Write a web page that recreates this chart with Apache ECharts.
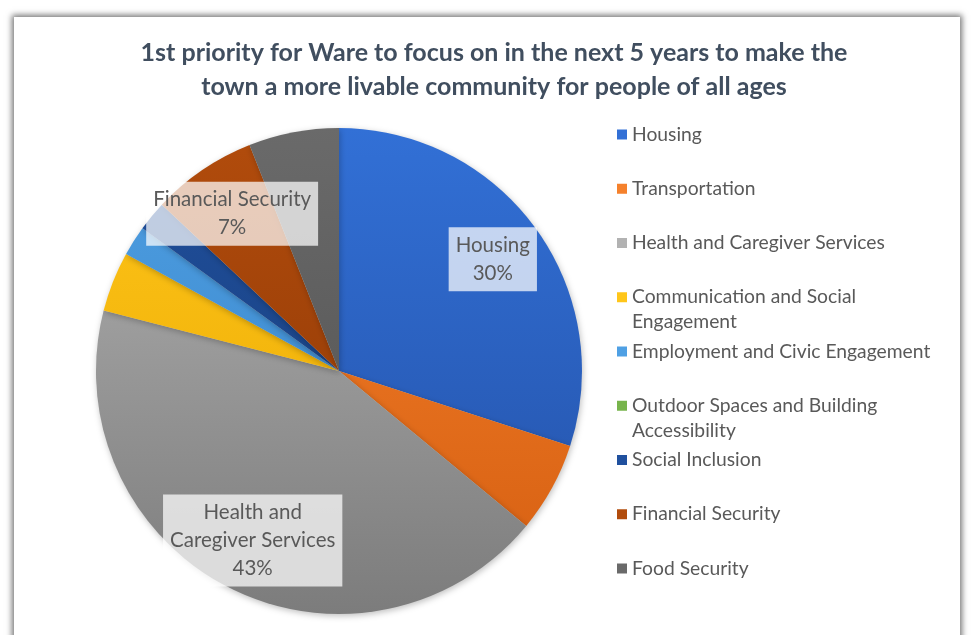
<!DOCTYPE html>
<html>
<head>
<meta charset="utf-8">
<script src="https://cdn.jsdelivr.net/npm/echarts@6/dist/echarts.min.js"></script>
<style>
  html, body { margin: 0; padding: 0; background: #ffffff; }
  #frame { position: absolute; left: 14px; top: 17px; width: 946px; height: 660px;
           background: #ffffff; box-shadow: 0 0 6px 2px rgba(0,0,0,0.55); }
  #chart { position: absolute; left: 0; top: 0; width: 972px; height: 635px; }
</style>
</head>
<body>
<div id="frame"></div>
<div id="chart"></div>
<script>
// ---- data ----
const titleText = "1st priority for Ware to focus on in the next 5 years to make the\ntown a more livable community for people of all ages";
const categories = [
  "Housing",
  "Transportation",
  "Health and Caregiver Services",
  "Communication and Social Engagement",
  "Employment and Civic Engagement",
  "Outdoor Spaces and Building Accessibility",
  "Social Inclusion",
  "Financial Security",
  "Food Security"
];
const shares = [30, 6, 43, 4, 2, 0, 2, 7, 6];
const labeledCategories = ["Housing", "Health and Caregiver Services", "Financial Security"];
const sliceLabelText = {
  "Housing": "Housing",
  "Health and Caregiver Services": "Health and\nCaregiver Services",
  "Financial Security": "Financial Security"
};
const legendText = {
  "Communication and Social Engagement": "Communication and Social\nEngagement",
  "Outdoor Spaces and Building Accessibility": "Outdoor Spaces and Building\nAccessibility"
};

// ---- style ----
const colorPairs = [
  ["#3270D6", "#2350A6"],
  ["#F5812C", "#D55E10"],
  ["#B2B2B2", "#7C7C7C"],
  ["#FFC61A", "#E8A600"],
  ["#4FA0E4", "#357FC2"],
  ["#77B44C", "#5E963A"],
  ["#20509E", "#163A74"],
  ["#B24C0C", "#8A3605"],
  ["#6A6A6A", "#4E4E4E"]
];
const FONT = "Lato, 'Open Sans', sans-serif";
const cx = 339, cy = 371, R = 243;
const LH = 25; // legend line height

function grad(pair) {
  return new echarts.graphic.LinearGradient(0, cy - R, 0, cy + R,
    [{ offset: 0, color: pair[0] }, { offset: 1, color: pair[1] }], true);
}

const chart = echarts.init(document.getElementById('chart'), null, { renderer: 'canvas' });

const mainData = categories.map((n, i) => ({
  name: n, value: shares[i], itemStyle: { color: grad(colorPairs[i]) }
}));
const labelData = categories.map((n, i) => ({
  name: n, value: shares[i], label: { show: labeledCategories.indexOf(n) >= 0 }
}));

// marker box: square at top of a taller box so it lines up with the first text line
const twoLineIcon = 'path://M0,0h10v10h-10z M0,' + (10 + LH);

const legendStep = 54.25, legendC0 = 134;
const legends = categories.map((n, i) => {
  const two = !!legendText[n];
  return {
    orient: 'vertical',
    left: 612,
    top: legendC0 + i * legendStep - 17,
    icon: two ? twoLineIcon : 'rect',
    itemWidth: 10,
    itemHeight: two ? 10 + LH : 10,
    data: [{ name: n, itemStyle: { color: colorPairs[i][0] } }],
    formatter: name => legendText[name] || name,
    textStyle: { color: '#595959', fontSize: 19.3, lineHeight: LH, fontFamily: FONT }
  };
});

chart.setOption({
  animation: false,
  color: colorPairs.map(p => p[0]),
  title: {
    text: titleText,
    left: 489,
    textAlign: 'center',
    top: 31,
    textStyle: { color: '#404E5F', fontSize: 25, fontWeight: 'bold', lineHeight: 34, fontFamily: FONT }
  },
  legend: legends,
  series: [
    {
      type: 'pie',
      center: [cx, cy],
      radius: [0, R],
      startAngle: 90,
      clockwise: true,
      label: { show: false },
      labelLine: { show: false },
      emphasis: { disabled: true },
      itemStyle: { shadowBlur: 6, shadowColor: 'rgba(0,0,0,0.25)', shadowOffsetX: 1, shadowOffsetY: 2 },
      data: mainData
    },
    {
      type: 'pie',
      center: [cx, cy],
      radius: [R * 0.54, R],
      startAngle: 90,
      clockwise: true,
      silent: true,
      percentPrecision: 0,
      itemStyle: { color: 'rgba(0,0,0,0)' },
      emphasis: { disabled: true },
      labelLine: { show: false },
      label: {
        show: false,
        position: 'inside',
        formatter: p => (sliceLabelText[p.name] || p.name) + '\n' + p.percent + '%',
        color: '#595959',
        fontSize: 20.5,
        lineHeight: 28,
        fontFamily: FONT,
        backgroundColor: 'rgba(255,255,255,0.72)',
        padding: [5, 7, 3, 7]
      },
      data: labelData
    }
  ]
});
</script>
</body>
</html>
